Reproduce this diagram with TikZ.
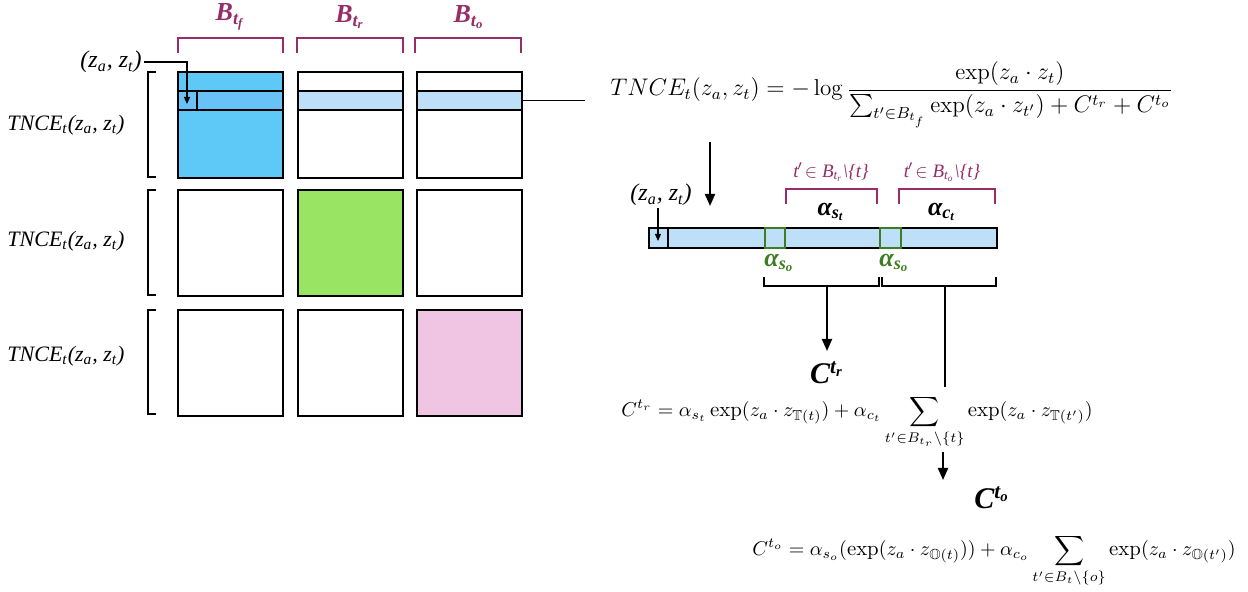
\documentclass[tikz,border=0pt]{standalone}
\usepackage{amsmath,amssymb}
\usepackage{fontspec}
\newfontfamily\tms{Liberation Serif}
\usetikzlibrary{arrows.meta}
\definecolor{blueA}{HTML}{5EC8F6}
\definecolor{blueB}{HTML}{68C2F5}
\definecolor{lblue}{HTML}{BDE0F8}
\definecolor{lgreen}{HTML}{99E462}
\definecolor{lpink}{HTML}{F0C5E4}
\definecolor{mag}{HTML}{962D69}
\definecolor{dgreen}{HTML}{3E7D21}
\newcommand{\tpr}{t\kern-0.6pt$'$\kern1pt$\in$}
\tikzset{
  cell/.style={draw, line width=1pt, minimum width=52.5pt, minimum height=53pt, inner sep=0pt, anchor=north west},
  band/.style={draw, line width=1pt, minimum width=52.5pt, minimum height=9.5pt, inner sep=0pt, anchor=north west, fill=lblue},
  brk/.style={line width=0.8pt},
  mbrk/.style={line width=0.8pt, draw=mag},
  arr/.style={line width=1pt, -{Triangle[length=6pt,width=5pt]}},
  sarr/.style={line width=0.6pt, -{Triangle[length=3.5pt,width=3pt]}},
  lbl/.style={inner sep=1pt, font=\tms\itshape\fontsize{11}{13}\selectfont},
  blbl/.style={inner sep=1pt, text=mag, font=\tms\bfseries\itshape\fontsize{13}{15}\selectfont},
  mlbl/.style={inner sep=1pt, text=mag, font=\tms\itshape\fontsize{9.5}{11}\selectfont},
  albl/.style={inner sep=1pt, font=\tms\bfseries\itshape\fontsize{13}{15}\selectfont},
  frm/.style={inner sep=0pt, font=\fontsize{11.5}{14}\selectfont},
  frms/.style={inner sep=0pt, font=\fontsize{10.4}{13}\selectfont}
}
\begin{document}
\begin{tikzpicture}[x=0.5pt,y=-0.5pt]
\useasboundingbox (0,0) rectangle (1248,592);

% column labels and brackets
\node[blbl] (Bf) at (230,17) {B\textsubscript{t\textsubscript{f}}};
\node[blbl] (Br) at (350,17) {B\textsubscript{t\textsubscript{r}}};
\node[blbl] (Bo) at (469,17) {B\textsubscript{t\textsubscript{o}}};
\draw[mbrk] (178,53) -- (178,38) -- (283,38) -- (283,53);
\draw[mbrk] (297,53) -- (297,38) -- (403,38) -- (403,53);
\draw[mbrk] (415,53) -- (415,38) -- (521,38) -- (521,53);

% grid
\node[cell, fill=blueA] (c11) at (177,71) {};
\node[cell] (c12) at (297,71) {};
\node[cell] (c13) at (416,71) {};
\node[cell] (c21) at (177,189) {};
\node[cell, fill=lgreen] (c22) at (297,189) {};
\node[cell] (c23) at (416,189) {};
\node[cell] (c31) at (177,309) {};
\node[cell] (c32) at (297,309) {};
\node[cell, fill=lpink] (c33) at (416,309) {};

% bands of row 1
\node[band, fill=blueB] (b1) at (177,90) {};
\node[band] (b2) at (297,90) {};
\node[band] (b3) at (416,90) {};
\draw[line width=1pt] (197,90) -- (197,109);

% left brackets and labels
\draw[brk] (156,72) -- (148,72) -- (148,177) -- (156,177);
\draw[brk] (156,190) -- (148,190) -- (148,295) -- (156,295);
\draw[brk] (156,310) -- (148,310) -- (148,414) -- (156,414);
\node[lbl] (L1) at (66,125) {TNCE\textsubscript{t}(z\textsubscript{a}, z\textsubscript{t})};
\node[lbl] (L2) at (66,241) {TNCE\textsubscript{t}(z\textsubscript{a}, z\textsubscript{t})};
\node[lbl] (L3) at (66,356) {TNCE\textsubscript{t}(z\textsubscript{a}, z\textsubscript{t})};

% (z_a,z_t) pointer
\node[lbl, anchor=east, font=\tms\itshape\fontsize{12}{14}\selectfont] (zt1) at (144,62) {(z\textsubscript{a}, z\textsubscript{t})};
\coordinate (p1) at (187,104);
\draw[sarr] (zt1.east) -| (p1);

% link to formula
\coordinate (link) at (585,99.5);
\draw[line width=0.8pt] (b3.east) -- (b3.east -| link);

% top formula
\node[frm, anchor=base west] (F1) at (610,96) {$\displaystyle TNCE_t(z_a,z_t) = -\log\frac{\exp(z_a\cdot z_t)}{\sum_{t'\in B_{t_f}}\exp(z_a\cdot z_{t'}) + C^{t_r} + C^{t_o}}$};

% down arrow
\coordinate (d1s) at (710,142);
\coordinate (d1e) at (710,206);
\draw[arr] (d1s) -- (d1e);

% bar
\node[draw, line width=1pt, fill=lblue, minimum width=174pt, minimum height=10pt, inner sep=0pt, anchor=north west] (bar) at (648,227) {};
\draw[line width=1pt] (668,227) -- (668,247);
\node[draw=dgreen, line width=1pt, minimum width=10pt, minimum height=10pt, inner sep=0pt, anchor=north west] (g1) at (764,227) {};
\node[draw=dgreen, line width=1pt, minimum width=10.5pt, minimum height=10pt, inner sep=0pt, anchor=north west] (g2) at (879,227) {};

\node[lbl, font=\tms\itshape\fontsize{12}{14}\selectfont] (zt2) at (661,195) {(z\textsubscript{a}, z\textsubscript{t})};
\coordinate (p2) at (658,241);
\draw[sarr] (zt2.south -| p2) -- (p2);

% magenta brackets above bar
\draw[mbrk] (786,204) -- (786,189) -- (877,189) -- (877,204);
\draw[mbrk] (899,204) -- (899,189) -- (995,189) -- (995,204);
\node[mlbl] (m1) at (831,172) {\tpr{} B\textsubscript{t\textsubscript{r}}\textbackslash\{t\}};
\node[mlbl] (m2) at (942,172) {\tpr{} B\textsubscript{t\textsubscript{o}}\textbackslash\{t\}};
\node[albl] (ast) at (831,212) {α\textsubscript{s\textsubscript{t}}};
\node[albl] (act) at (942,212) {α\textsubscript{c\textsubscript{t}}};
\node[albl, text=dgreen, anchor=west] (aso1) at (762,263) {α\textsubscript{s\textsubscript{o}}};
\node[albl, text=dgreen, anchor=west] (aso2) at (877,263) {α\textsubscript{s\textsubscript{o}}};

% lower brackets
\draw[brk] (764,277) -- (764,286) -- (879,286) -- (879,277);
\draw[brk] (882,277) -- (882,286) -- (996,286) -- (996,277);
\coordinate (br1) at (827,286);
\coordinate (br2) at (945,286);

% C^{t_r}
\node[albl, font=\tms\bfseries\itshape\fontsize{15}{17}\selectfont] (Ctr) at (827,373) {C\textsuperscript{t\textsubscript{r}}};
\coordinate (br1e) at (827,351);
\draw[arr] (br1) -- (br1e);
\coordinate (br2e) at (945,387);
\draw[line width=1pt] (br2) -- (br2e);

\node[frms, anchor=base west] (F2) at (621,417) {$\displaystyle C^{t_r} = \alpha_{s_t}\exp(z_a\cdot z_{\mathbb{T}(t)}) + \alpha_{c_t}\sum_{t'\in B_{t_r}\setminus\{t\}}\exp(z_a\cdot z_{\mathbb{T}(t')})$};

% C^{t_o}
\coordinate (d3s) at (943,452);
\coordinate (d3e) at (943,480);
\draw[arr] (d3s) -- (d3e);
\node[albl, font=\tms\bfseries\itshape\fontsize{15}{17}\selectfont] (Cto) at (992,498) {C\textsuperscript{t\textsubscript{o}}};

\node[frms, anchor=base west] (F3) at (752,556) {$\displaystyle C^{t_o} = \alpha_{s_o}(\exp(z_a\cdot z_{\mathbb{O}(t)})) + \alpha_{c_o}\sum_{t'\in B_t\setminus\{o\}}\exp(z_a\cdot z_{\mathbb{O}(t')})$};
\end{tikzpicture}
\end{document}
